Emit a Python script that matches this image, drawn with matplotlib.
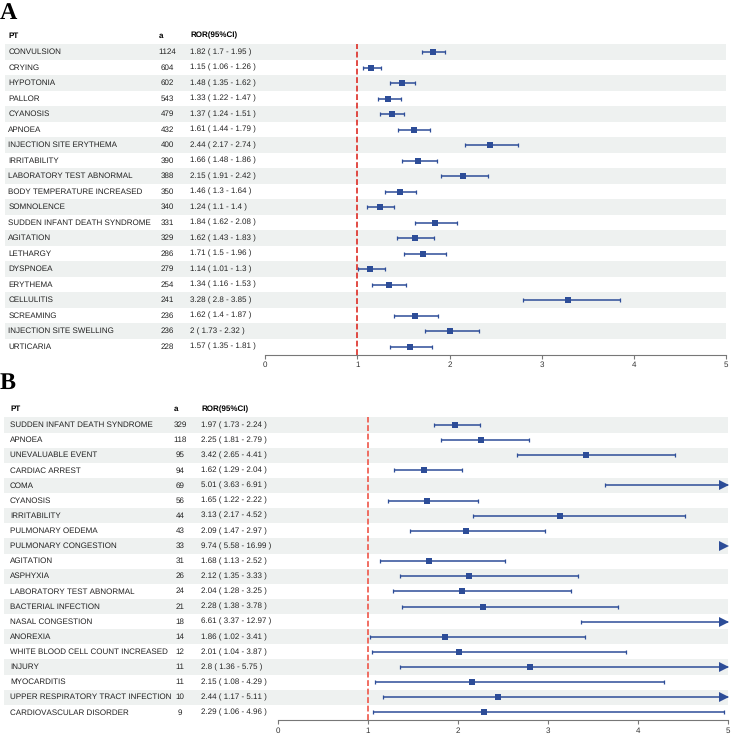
import matplotlib
matplotlib.use("Agg")
import matplotlib.pyplot as plt
from matplotlib import transforms
from matplotlib.patches import Rectangle

plt.rcParams['text.hinting'] = 'no_hinting'
plt.rcParams['text.hinting_factor'] = 1

# panel A data
pt_a = ["CONVULSION", "CRYING", "HYPOTONIA", "PALLOR", "CYANOSIS", "APNOEA",
        "INJECTION SITE ERYTHEMA", "IRRITABILITY", "LABORATORY TEST ABNORMAL",
        "BODY TEMPERATURE INCREASED", "SOMNOLENCE", "SUDDEN INFANT DEATH SYNDROME",
        "AGITATION", "LETHARGY", "DYSPNOEA", "ERYTHEMA", "CELLULITIS", "SCREAMING",
        "INJECTION SITE SWELLING", "URTICARIA"]
n_a = [1124, 604, 602, 543, 479, 432, 400, 390, 388, 350, 340, 331, 329, 286, 279,
       254, 241, 236, 236, 228]
ror_a = [1.82, 1.15, 1.48, 1.33, 1.37, 1.61, 2.44, 1.66, 2.15, 1.46, 1.24, 1.84,
         1.62, 1.71, 1.14, 1.34, 3.28, 1.62, 2, 1.57]
lo_a = [1.7, 1.06, 1.35, 1.22, 1.24, 1.44, 2.17, 1.48, 1.91, 1.3, 1.1, 1.62,
        1.43, 1.5, 1.01, 1.16, 2.8, 1.4, 1.73, 1.35]
hi_a = [1.95, 1.26, 1.62, 1.47, 1.51, 1.79, 2.74, 1.86, 2.42, 1.64, 1.4, 2.08,
        1.83, 1.96, 1.3, 1.53, 3.85, 1.87, 2.32, 1.81]

# panel B data
pt_b = ["SUDDEN INFANT DEATH SYNDROME", "APNOEA", "UNEVALUABLE EVENT", "CARDIAC ARREST",
        "COMA", "CYANOSIS", "IRRITABILITY", "PULMONARY OEDEMA", "PULMONARY CONGESTION",
        "AGITATION", "ASPHYXIA", "LABORATORY TEST ABNORMAL", "BACTERIAL INFECTION",
        "NASAL CONGESTION", "ANOREXIA", "WHITE BLOOD CELL COUNT INCREASED", "INJURY",
        "MYOCARDITIS", "UPPER RESPIRATORY TRACT INFECTION", "CARDIOVASCULAR DISORDER"]
n_b = [329, 118, 95, 94, 69, 56, 44, 43, 33, 31, 26, 24, 21, 18, 14, 12, 11, 11, 10, 9]
ror_b = [1.97, 2.25, 3.42, 1.62, 5.01, 1.65, 3.13, 2.09, 9.74, 1.68, 2.12, 2.04,
         2.28, 6.61, 1.86, 2.01, 2.8, 2.15, 2.44, 2.29]
lo_b = [1.73, 1.81, 2.65, 1.29, 3.63, 1.22, 2.17, 1.47, 5.58, 1.13, 1.35, 1.28,
        1.38, 3.37, 1.02, 1.04, 1.36, 1.08, 1.17, 1.06]
hi_b = [2.24, 2.79, 4.41, 2.04, 6.91, 2.22, 4.52, 2.97, 16.99, 2.52, 3.33, 3.25,
        3.78, 12.97, 3.41, 3.87, 5.75, 4.29, 5.11, 4.96]

W, H = 731, 734
BLUE = '#2d4d98'
BAND = '#eef1f0'
FONT = 'Liberation Sans'
FS = 5.85

fig = plt.figure(figsize=(W / 100, H / 100), dpi=100)


def panel(label, label_y, pt, n, ror, lo, hi, x0, x5, top, bottom, head_y,
          band_x, col_pt, col_n, col_head_n, col_ror, red):
    ax = fig.add_axes([x0 / W, 1 - bottom / H, (x5 - x0) / W, (bottom - top) / H])
    ax.set_facecolor('none')
    nrow = len(pt)
    ax.set_xlim(0, 5)
    ax.set_ylim(nrow - 0.5, -0.5)
    tr = transforms.blended_transform_factory(fig.transFigure, ax.transData)

    for i in range(nrow):
        if i % 2 == 0:
            ax.add_patch(Rectangle((band_x / W, i - 0.5), (x5 - band_x) / W, 1,
                                   transform=tr, facecolor=BAND, edgecolor='none',
                                   clip_on=False, zorder=0))
        ax.text(col_pt / W, i, pt[i], transform=tr, fontsize=FS, family=FONT,
                va='center', ha='left', color='#222222')
        ax.text(col_n / W, i, str(n[i]), transform=tr, fontsize=FS, family=FONT,
                va='center', ha='center', color='#222222')
        ax.text(col_ror / W, i, '{:g} ( {:g} - {:g} )'.format(ror[i], lo[i], hi[i]),
                transform=tr, fontsize=FS, family=FONT, va='center', ha='left',
                color='#222222')

        a, b = max(lo[i], 0), min(hi[i], 5)
        if a < 5:
            ax.plot([a, b], [i, i], color=BLUE, lw=1.1, zorder=3, solid_capstyle='butt')
            ax.plot([a], [i], marker='|', color=BLUE, ms=3.2, mew=0.9, zorder=3)
        if hi[i] <= 5:
            ax.plot([b], [i], marker='|', color=BLUE, ms=3.2, mew=0.9, zorder=3)
        else:
            ax.plot([4.955], [i], marker='>', color=BLUE, ms=7, mew=0, zorder=4,
                    clip_on=False)
        if ror[i] <= 5:
            ax.plot([ror[i]], [i], marker='s', color=BLUE, ms=4.2, mew=0, zorder=4)

    # header
    hy = 1 - head_y / H
    fig.text(col_pt / W, hy, 'PT', fontsize=FS, family=FONT, weight='bold', va='center')
    fig.text(col_head_n / W, hy, 'a', fontsize=FS, family=FONT, weight='bold', va='center')
    fig.text(col_ror / W, hy, 'ROR(95%CI)', fontsize=FS, family=FONT, weight='bold',
             va='center')
    fig.text(0.0, 1 - label_y / H, label, fontsize=17.5, family='Liberation Serif',
             weight='bold', va='center_baseline', ha='left')

    ax.axvline(1, color=red, lw=1.2, linestyle=(0, (3.5, 1.6)), zorder=2)

    ax.set_yticks([])
    for s in ['top', 'right', 'left']:
        ax.spines[s].set_visible(False)
    ax.spines['bottom'].set_color('#777777')
    ax.spines['bottom'].set_linewidth(0.8)
    ax.set_xticks([0, 1, 2, 3, 4, 5])
    ax.tick_params(axis='x', colors='#777777', length=3, width=0.8, pad=2,
                   labelsize=FS, labelcolor='#333333')
    for t in ax.get_xticklabels():
        t.set_family(FONT)
    return ax


panel('A', 11, pt_a, n_a, ror_a, lo_a, hi_a, 265.3, 726, 44.3, 354.5, 35.5,
      5, 8.3, 167.5, 159, 190.5, '#dd2c25')
panel('B', 381, pt_b, n_b, ror_b, lo_b, hi_b, 278, 728, 417.4, 720, 409,
      4, 10, 180, 174, 201, '#ef5548')

fig.savefig('out.png', dpi=100)
